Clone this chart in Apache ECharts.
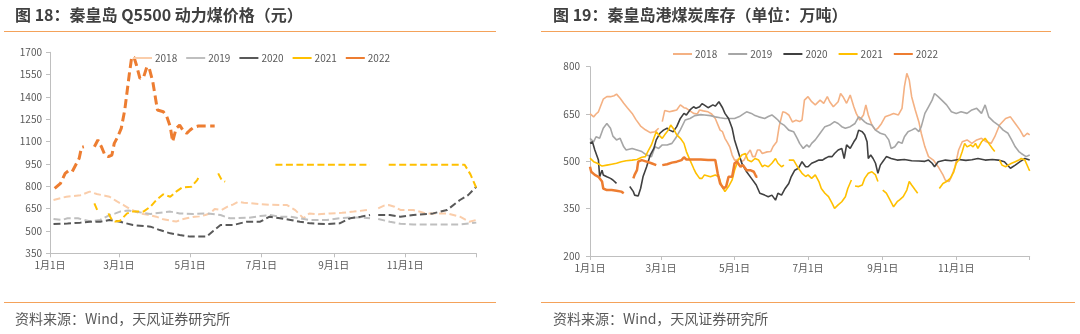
<!DOCTYPE html>
<html>
<head>
<meta charset="utf-8">
<script src="https://cdn.jsdelivr.net/npm/echarts@6/dist/echarts.min.js"></script>
<style>
  html, body { margin: 0; padding: 0; background: #ffffff; }
  #chart { width: 1080px; height: 334px; }
</style>
</head>
<body>
<div id="chart"></div>
<script>
// Day of year (0 = 1月1日, 365 = next 1月1日) paired with the value; null marks a break in the record.
const years = ['2018', '2019', '2020', '2021', '2022'];

// Qinhuangdao Q5500 thermal coal price (元/吨)
const price2018 = [[3,708],[14,730],[26,740],[34,764],[40,748],[47,737],[51,730],[57,700],[63,674],[69,645],[77,618],[84,608],[91,596],[97,578],[108,563],[113,578],[117,585],[124,596],[128,598],[133,607],[137,618],[141,648],[147,641],[152,663],[157,679],[161,695],[166,690],[172,686],[180,680],[188,676],[197,674],[203,674],[210,640],[217,585],[222,618],[230,612],[240,618],[250,622],[260,630],[272,641],[274,null],[281,652],[286,670],[290,674],[295,663],[300,641],[311,641],[322,618],[330,618],[340,618],[351,596],[359,562],[365,574]];
const price2019 = [[3,581],[10,574],[15,585],[24,585],[34,565],[43,574],[51,607],[56,618],[60,630],[67,638],[77,625],[86,614],[97,625],[103,630],[111,618],[123,614],[134,618],[146,607],[154,585],[170,589],[180,600],[188,607],[197,596],[206,596],[214,585],[222,574],[237,574],[248,586],[257,590],[266,590],[274,585],[275,null],[281,580],[291,562],[300,548],[311,544],[323,544],[340,544],[351,544],[365,556]];
const price2020 = [[3,547],[15,550],[26,556],[34,562],[43,562],[51,574],[60,562],[71,540],[80,533],[86,529],[94,506],[103,484],[111,473],[120,462],[134,462],[140,502],[146,540],[157,540],[168,562],[180,562],[188,596],[197,585],[206,574],[214,562],[223,551],[237,547],[248,551],[257,585],[266,596],[274,607],[275,null],[281,607],[291,607],[300,596],[311,607],[323,614],[328,618],[340,641],[351,708],[358,741],[365,797]];
const price2021 = [[38,685],[41,630],[42,null],[50,618],[53,574],[56,563],[60,569],[66,618],[71,630],[80,630],[86,663],[91,708],[97,746],[103,730],[108,764],[113,791],[121,797],[126,842],[128,869],[129,null],[144,887],[147,842],[150,831],[151,null],[193,945],[274,945],[275,null],[290,945],[355,945],[360,880],[365,790]];
const price2022 = [[4,786],[9,820],[13,887],[16,905],[19,898],[22,943],[25,988],[27,1062],[29,1066],[30,null],[38,1066],[41,1111],[44,1066],[47,1010],[50,999],[53,1010],[55,1088],[58,1133],[61,1189],[64,1312],[68,1559],[70,1670],[72,1665],[74,1615],[77,1525],[80,1530],[83,1603],[85,1592],[88,1503],[92,1312],[97,1301],[100,1268],[103,1200],[105,1100],[108,1189],[111,1211],[114,1174],[117,1156],[120,1178],[123,1196],[127,1205],[141,1205]];

// Qinhuangdao port coal stock (万吨)
const stock2018 = [[0,651],[3,641],[5,650],[7,657],[11,697],[14,705],[17,705],[20,708],[22,713],[25,700],[28,684],[31,670],[35,652],[38,633],[42,612],[46,600],[50,591],[54,594],[57,605],[58,null],[60,626],[62,661],[66,657],[69,660],[72,663],[75,679],[78,670],[80,668],[83,660],[86,652],[89,650],[91,663],[94,660],[98,657],[101,650],[104,636],[108,599],[110,594],[112,573],[114,560],[116,546],[118,520],[120,504],[122,504],[124,510],[126,499],[128,505],[130,520],[133,536],[135,515],[137,515],[139,536],[141,536],[143,525],[147,530],[150,531],[152,547],[155,562],[157,610],[160,657],[162,655],[165,647],[168,625],[171,630],[174,626],[176,631],[178,694],[181,705],[184,689],[187,679],[191,694],[194,684],[197,705],[199,689],[202,673],[206,689],[208,715],[210,705],[213,684],[216,710],[219,673],[221,652],[224,631],[227,647],[229,679],[231,647],[234,615],[237,599],[239,605],[242,620],[245,641],[249,647],[252,652],[256,647],[259,668],[261,737],[263,779],[265,758],[267,705],[270,663],[273,625],[275,589],[278,546],[281,515],[285,504],[289,483],[293,457],[295,440],[298,436],[300,451],[303,483],[306,536],[309,562],[313,568],[317,557],[321,568],[325,573],[329,562],[333,557],[336,578],[340,615],[345,636],[349,641],[353,620],[357,599],[360,578],[363,589],[365,584]];
const stock2019 = [[0,573],[3,562],[5,578],[8,573],[11,605],[14,620],[17,605],[19,580],[22,568],[25,573],[28,546],[30,536],[35,541],[39,536],[43,531],[47,520],[51,515],[54,546],[57,541],[60,552],[64,552],[68,557],[71,573],[75,600],[79,631],[83,636],[87,645],[92,648],[95,647],[100,645],[104,641],[108,638],[112,636],[116,636],[120,636],[124,642],[128,652],[130,657],[134,652],[137,645],[140,641],[145,636],[148,642],[151,647],[154,638],[156,631],[158,622],[161,615],[165,599],[169,594],[172,573],[174,557],[177,541],[180,552],[182,545],[184,557],[187,568],[191,589],[195,610],[199,615],[203,626],[206,620],[209,610],[212,605],[216,610],[220,620],[223,641],[225,636],[228,625],[230,620],[234,615],[237,599],[241,589],[245,584],[248,568],[250,541],[253,546],[256,562],[259,557],[261,578],[264,594],[267,599],[270,605],[273,594],[275,610],[278,652],[281,673],[284,694],[286,715],[289,705],[292,694],[296,679],[300,657],[304,652],[308,657],[313,652],[317,663],[321,668],[325,652],[328,679],[331,641],[335,626],[339,615],[343,599],[347,589],[350,568],[353,546],[356,531],[358,525],[362,515],[365,520]];
const stock2020 = [[0,557],[2,562],[4,536],[7,504],[8,451],[10,472],[11,457],[14,451],[17,446],[19,441],[22,430],[23,null],[33,420],[36,404],[37,393],[40,390],[42,414],[44,451],[47,483],[50,520],[53,541],[55,568],[58,589],[61,599],[64,605],[66,599],[69,594],[72,610],[75,636],[78,652],[80,647],[83,663],[86,673],[88,668],[91,673],[93,683],[95,678],[98,670],[102,679],[104,675],[107,689],[110,670],[112,652],[115,636],[118,605],[120,568],[123,531],[126,494],[130,467],[134,446],[138,425],[141,399],[145,393],[148,388],[151,393],[154,377],[156,399],[159,393],[162,414],[165,430],[167,451],[170,472],[173,478],[176,499],[179,483],[181,483],[184,494],[187,499],[190,504],[193,504],[195,509],[198,515],[201,515],[203,525],[206,536],[209,541],[211,509],[213,552],[216,541],[219,562],[221,573],[223,599],[226,594],[228,584],[230,562],[231,509],[233,520],[235,509],[237,494],[239,462],[241,488],[244,504],[246,515],[250,509],[255,504],[261,506],[267,502],[273,501],[278,500],[281,504],[284,494],[286,483],[289,499],[295,504],[300,502],[306,506],[312,503],[317,505],[322,509],[328,504],[334,506],[339,504],[344,499],[349,478],[353,488],[357,499],[361,509],[365,504]];
const stock2021 = [[0,510],[3,499],[6,494],[10,485],[14,488],[18,491],[22,494],[26,499],[30,502],[35,504],[39,506],[43,513],[46,515],[48,531],[51,552],[53,573],[55,594],[57,584],[60,573],[62,584],[65,599],[67,615],[69,605],[72,584],[75,573],[78,557],[80,531],[83,504],[86,478],[88,462],[91,446],[93,446],[95,457],[100,451],[104,457],[107,451],[109,425],[112,404],[115,420],[118,441],[120,472],[123,504],[126,520],[129,525],[131,504],[134,499],[137,509],[140,504],[143,483],[145,488],[148,483],[151,494],[154,509],[156,494],[159,483],[161,488],[163,null],[165,504],[169,504],[173,478],[176,462],[179,452],[181,457],[184,446],[187,457],[190,436],[192,414],[195,399],[198,388],[201,367],[203,351],[206,362],[209,372],[212,388],[214,414],[217,441],[218,null],[220,422],[223,420],[226,425],[228,446],[231,462],[234,467],[237,457],[239,436],[240,null],[243,409],[246,399],[249,378],[252,356],[255,372],[257,378],[260,388],[263,409],[265,436],[267,425],[270,409],[272,399],[273,null],[290,414],[293,430],[296,436],[299,446],[302,467],[304,494],[307,509],[309,531],[311,557],[313,546],[316,552],[318,546],[320,557],[322,541],[325,562],[328,573],[331,557],[334,541],[336,531],[337,null],[340,504],[342,488],[345,483],[347,488],[350,494],[353,499],[356,504],[358,509],[361,504],[364,478],[365,470]];
const stock2022 = [[0,483],[1,467],[4,457],[7,451],[10,436],[11,414],[14,409],[18,409],[22,407],[26,404],[28,399],[29,null],[36,446],[37,457],[39,472],[40,499],[43,504],[47,499],[51,494],[55,488],[56,null],[60,488],[64,491],[68,496],[72,499],[76,504],[78,513],[80,506],[84,506],[88,506],[92,506],[98,504],[104,504],[105,502],[106,462],[108,430],[111,414],[113,420],[115,451],[118,451],[120,494],[122,499],[125,483],[127,488],[130,472],[133,472],[136,467],[138,451],[139,451]];

// Axis ticks
const monthTicks = [0, 59, 120, 181, 243, 304, 365];
const monthLabels = ['1月1日', '3月1日', '5月1日', '7月1日', '9月1日', '11月1日'];
const priceTicks = [350, 500, 650, 800, 950, 1100, 1250, 1400, 1550, 1700];
const stockTicks = [200, 350, 500, 650, 800];

const FONT = "'Noto Sans CJK SC', 'Noto Sans', sans-serif";
const AXIS_GREY = '#BFBFBF';
const LABEL_GREY = '#595959';
const ACCENT = '#F4A25A';

const priceData = [price2018, price2019, price2020, price2021, price2022];
const stockData = [stock2018, stock2019, stock2020, stock2021, stock2022];
const priceColors = ['#FACDAA', '#BFBFBF', '#595959', '#FFC000', '#ED7D31'];
const stockColors = ['#F4B183', '#A6A6A6', '#404040', '#FFC000', '#ED7D31'];

const toPoints = pts => pts.map(([d, v]) => [d, v === null ? '-' : v]);

function dayAxis(gridIndex) {
  return {
    type: 'value', gridIndex, min: 0, max: 365,
    splitLine: { show: false },
    axisLine: { show: true, lineStyle: { color: AXIS_GREY, width: 1 } },
    axisTick: { show: true, customValues: monthTicks, length: 4, lineStyle: { color: AXIS_GREY } },
    axisLabel: {
      customValues: monthTicks.slice(0, monthLabels.length),
      formatter: v => monthLabels[monthTicks.indexOf(v)],
      color: LABEL_GREY, fontSize: 10, fontFamily: FONT, margin: 7
    }
  };
}

function valueAxis(gridIndex, ticks, margin) {
  return {
    type: 'value', gridIndex, min: ticks[0], max: ticks[ticks.length - 1],
    splitLine: { show: false },
    axisLine: { show: true, lineStyle: { color: AXIS_GREY, width: 1 } },
    axisTick: { show: true, customValues: ticks, length: 4, lineStyle: { color: AXIS_GREY } },
    axisLabel: { customValues: ticks, formatter: v => String(v), color: LABEL_GREY, fontSize: 10, fontFamily: FONT, margin }
  };
}

const series = [];
years.forEach((y, i) => {
  const main = y === '2022';
  series.push({
    name: '价格' + y, type: 'line', xAxisIndex: 0, yAxisIndex: 0,
    data: toPoints(priceData[i]), symbol: 'none', connectNulls: false,
    lineStyle: { color: priceColors[i], width: main ? 3 : 2, type: main ? [9, 4.5] : [7, 3.5] },
    itemStyle: { color: priceColors[i] }
  });
});
years.forEach((y, i) => {
  const main = y === '2022';
  series.push({
    name: '库存' + y, type: 'line', xAxisIndex: 1, yAxisIndex: 1,
    data: toPoints(stockData[i]), symbol: 'none', connectNulls: false,
    lineStyle: { color: stockColors[i], width: main ? 2.5 : 1.6 },
    itemStyle: { color: stockColors[i] }
  });
});

// Legend keys are drawn as short solid bars in each series colour
const legendBase = {
  orient: 'horizontal', itemWidth: 19, itemHeight: 2, padding: 0,
  icon: 'rect',
  formatter: n => n.slice(-4),
  textStyle: { color: LABEL_GREY, fontSize: 10, fontFamily: FONT, padding: [0, 0, 0, -2] }
};

const option = {
  animation: false,
  backgroundColor: '#ffffff',
  grid: [
    { left: 50, top: 52.3, width: 426.3, height: 201, containLabel: false },
    { left: 590, top: 66.7, width: 439.7, height: 189.3, containLabel: false }
  ],
  xAxis: [dayAxis(0), dayAxis(1)],
  yAxis: [valueAxis(0, priceTicks, 8), valueAxis(1, stockTicks, 10)],
  legend: [
    Object.assign({}, legendBase, { left: 133, top: 53, itemGap: 9, data: years.map(y => '价格' + y) }),
    Object.assign({}, legendBase, { left: 673, top: 49, itemGap: 11, data: years.map(y => '库存' + y) })
  ],
  graphic: [
    { type: 'text', x: 15, y: 15, style: { text: '图 18：秦皇岛 Q5500 动力煤价格（元）', font: 'bold 16px ' + FONT, fill: '#404040', verticalAlign: 'middle' } },
    { type: 'line', shape: { x1: 4, y1: 31.5, x2: 496, y2: 31.5 }, style: { stroke: ACCENT, lineWidth: 1 } },
    { type: 'line', shape: { x1: 4, y1: 302.5, x2: 496, y2: 302.5 }, style: { stroke: ACCENT, lineWidth: 1 } },
    { type: 'text', x: 15, y: 319, style: { text: '资料来源：Wind，天风证券研究所', font: '14px ' + FONT, fill: LABEL_GREY, verticalAlign: 'middle' } },
    { type: 'text', x: 553, y: 15, style: { text: '图 19：秦皇岛港煤炭库存（单位：万吨）', font: 'bold 16px ' + FONT, fill: '#404040', verticalAlign: 'middle' } },
    { type: 'line', shape: { x1: 541, y1: 31.5, x2: 1051, y2: 31.5 }, style: { stroke: ACCENT, lineWidth: 1 } },
    { type: 'line', shape: { x1: 541, y1: 302.5, x2: 1075, y2: 302.5 }, style: { stroke: ACCENT, lineWidth: 1 } },
    { type: 'text', x: 553, y: 319, style: { text: '资料来源：Wind，天风证券研究所', font: '14px ' + FONT, fill: LABEL_GREY, verticalAlign: 'middle' } }
  ],
  series
};

const chart = echarts.init(document.getElementById('chart'), null, { renderer: 'canvas' });
chart.setOption(option);
</script>
</body>
</html>
